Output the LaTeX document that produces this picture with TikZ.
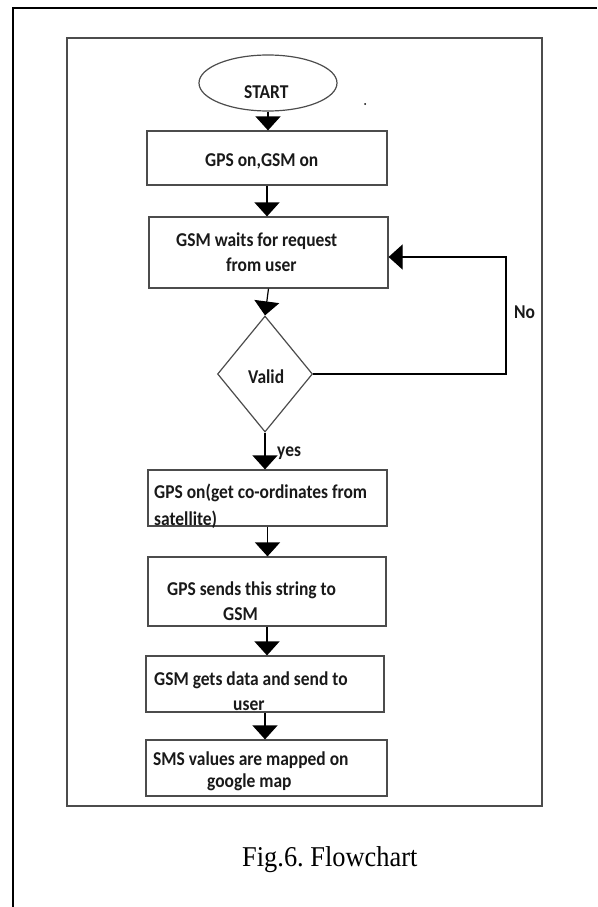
\documentclass[tikz,border=0pt]{standalone}
\usepackage{fontspec}
\setmainfont{Liberation Serif}[FakeStretch=0.92]
\newfontfamily\boxfont{Carlito}[FakeStretch=0.89]
\usetikzlibrary{shapes.geometric,arrows.meta}

\begin{document}
\begin{tikzpicture}[x=1pt,y=-1pt,
        procbox/.style={draw=black!70, line width=1.2pt, inner sep=0pt},
        startshape/.style={ellipse, draw=black!70, line width=1.2pt, inner sep=0pt},
        decision/.style={diamond, draw=black!70, line width=1.2pt, inner sep=0pt},
        flow/.style={line width=1.2pt, -{Triangle[width=25pt,length=14pt]}},
        lbl/.style={anchor=base west, inner sep=0pt, text=black!90,
            font=\boxfont\bfseries\fontsize{19.6}{23}\selectfont}]
    \useasboundingbox (0,0) rectangle (597,907);
    % page frame (only top and left edges show)
    \draw[line width=2pt] (13,907) -- (13,8) -- (597,8);
    % frame round the chart
    \draw[draw=black!70, line width=1.3pt] (67,38) rectangle (542,806);
    \fill (365,104) circle (1);

    % shapes of the chart
    \node[startshape, minimum width=138, minimum height=56] (start) at (268,83) {};
    \node[procbox, minimum width=240, minimum height=54] (gpson) at (267,158) {};
    \node[procbox, minimum width=239, minimum height=71] (wait) at (268.5,252.5) {};
    \node[decision, minimum width=95, minimum height=116] (valid) at (265,374) {};
    \node[procbox, minimum width=239, minimum height=56] (coord) at (267.5,498) {};
    \node[procbox, minimum width=238, minimum height=69] (send) at (267,591.5) {};
    \node[procbox, minimum width=238, minimum height=56] (gets) at (265,684) {};
    \node[procbox, minimum width=241, minimum height=56] (sms) at (266.5,768) {};

    % texts
    \node[lbl] (tstart) at (244,98) {START};
    \node[lbl] (tgpson) at (205,166) {GPS on,GSM on};
    \node[lbl] (twaita) at (176,246.5) {GSM waits for request};
    \node[lbl] (twaitb) at (226,271.5) {from user};
    \node[lbl] (tvalid) at (248,383) {Valid};
    \node[lbl] (tyes) at (277,456) {yes};
    \node[lbl] (tno) at (514,318) {No};
    \node[lbl] (tcoorda) at (154,498) {GPS on(get co-ordinates from};
    \node[lbl] (tcoordb) at (154,525) {satellite)};
    \node[lbl] (tsenda) at (167,595) {GPS sends this string to};
    \node[lbl] (tsendb) at (223,620.5) {GSM};
    \node[lbl] (tgetsa) at (154,685) {GSM gets data and send to};
    \node[lbl] (tgetsb) at (233,710) {user};
    \node[lbl] (tsmsa) at (153,765) {SMS values are mapped on};
    \node[lbl] (tsmsb) at (207,787) {google map};

    % arrows
    \draw[flow] (start.south) -- (start.south |- gpson.north);
    \draw[flow] (gpson.south) -- (gpson.south |- wait.north);
    \draw[flow] (wait.south) -- (valid.north);
    \draw[flow] (valid.south) -- (valid.south |- coord.north);
    \draw[flow] (coord.south) -- (coord.south |- send.north);
    \draw[flow] (send.south) -- (send.south |- gets.north);
    \draw[flow] (gets.south) -- (gets.south |- sms.north);
    % back to waiting when not valid
    \coordinate (loop) at (506,257);
    \draw[flow] (valid.east) -| (loop) -- (wait.east |- loop);

    \node[anchor=base west, inner sep=0pt, font=\fontsize{28.7}{32}\selectfont] (caption) at (242,866) {Fig.6.\ Flowchart};
\end{tikzpicture}
\end{document}
